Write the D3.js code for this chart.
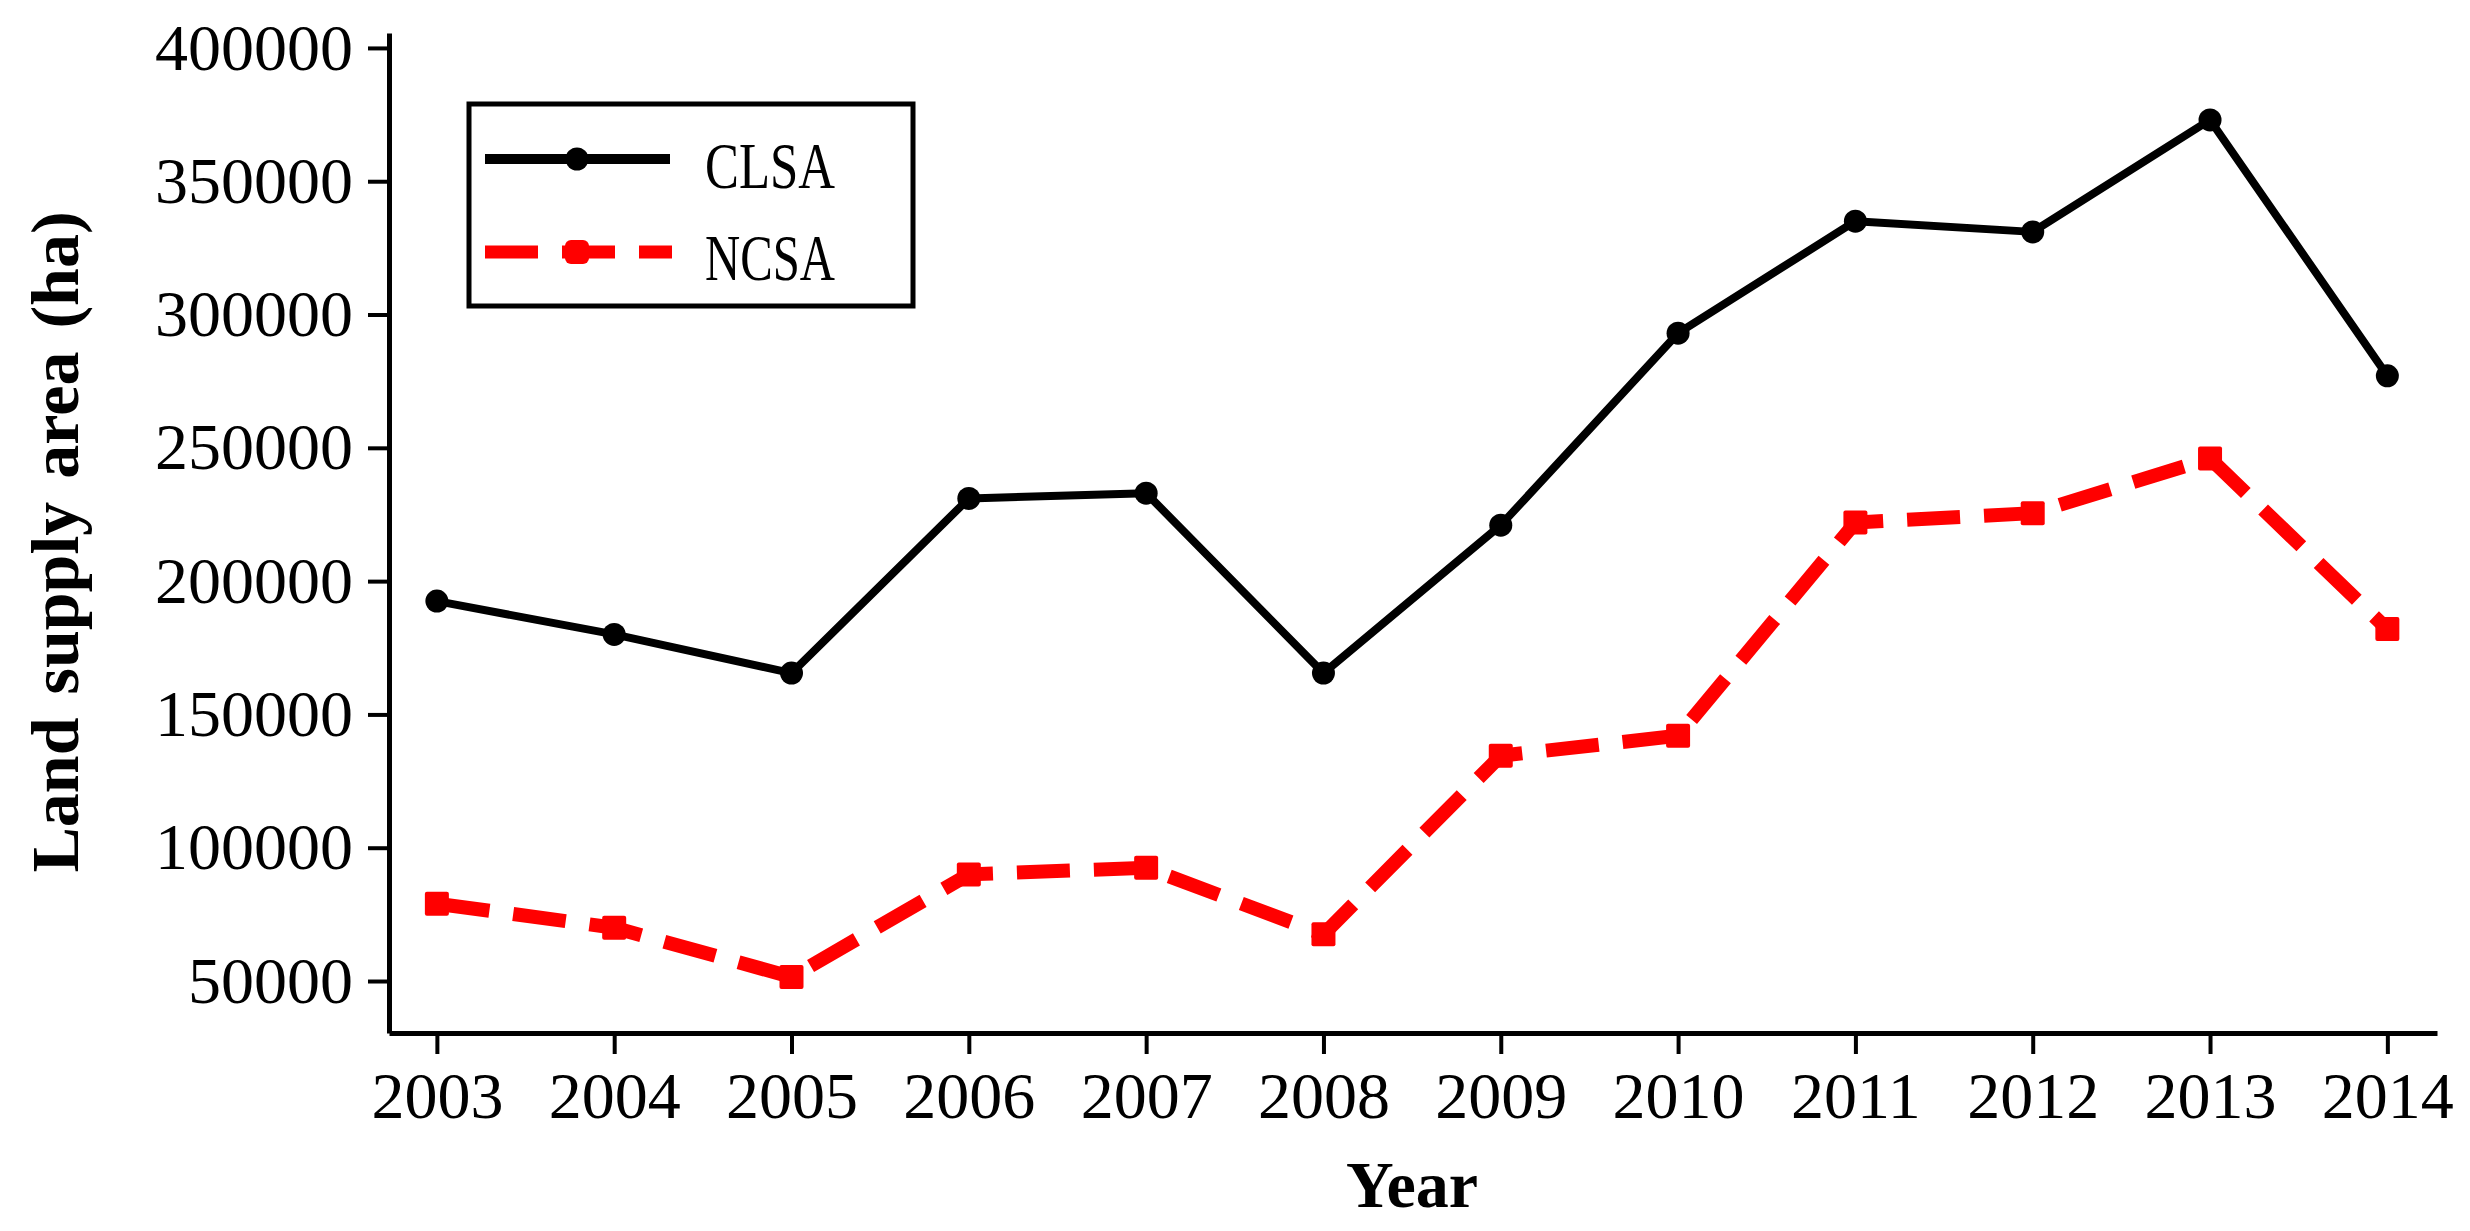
<!DOCTYPE html>
<html>
<head>
<meta charset="utf-8">
<script src="https://cdn.jsdelivr.net/npm/d3@7"></script>
<style>
	body { margin: 0; background: #fff; }
	text { font-family: "Liberation Serif", "DejaVu Serif", serif; }
</style>
</head>
<body>
<script>
// values
var years = [2003, 2004, 2005, 2006, 2007, 2008, 2009, 2010, 2011, 2012, 2013, 2014];
var clsa = [192500, 180000, 165500, 231000, 233000, 165500, 221000, 293000, 335000, 331000, 373000, 277000];
var ncsa = [79000, 70000, 51500, 90000, 92500, 67500, 134500, 142000, 222000, 225500, 246000, 182000];
var yTicks = [50000, 100000, 150000, 200000, 250000, 300000, 350000, 400000];
var seriesNames = ["CLSA", "NCSA"];

var WIDTH = 2470;
var HEIGHT = 1231;

var svg = d3.select("body")
	.append("svg")
	.attr("width", WIDTH)
	.attr("height", HEIGHT);

var x = d3.scaleLinear()
	.domain([2002.73, 2014.28])
	.range([389, 2437]);

var y = d3.scaleLinear()
	.domain([30500, 405600])
	.range([1033, 33]);

// axes
var xAxis = svg.append("g")
	.attr("transform", "translate(0,1033)")
	.call(d3.axisBottom(x).tickValues(years).tickFormat(d3.format("d")).tickSize(21).tickPadding(17).tickSizeOuter(0));

var yAxis = svg.append("g")
	.attr("transform", "translate(389,0)")
	.call(d3.axisLeft(y).tickValues(yTicks).tickFormat(d3.format("d")).tickSize(21).tickPadding(15).tickSizeOuter(0));

[xAxis, yAxis].forEach(function(a) {
	a.select(".domain").attr("stroke", "#000").attr("stroke-width", 5);
	a.selectAll(".tick line").attr("stroke", "#000").attr("stroke-width", 4);
	a.selectAll(".tick text")
		.attr("fill", "#000")
		.style("font-family", "'Liberation Serif', serif")
		.style("font-size", "66px");
});

// axis titles
svg.append("text")
	.attr("transform", "translate(78,542) rotate(-90)")
	.attr("text-anchor", "middle")
	.style("font-weight", "bold")
	.style("font-size", "68px")
	.style("word-spacing", "6px")
	.text("Land supply area (ha)");

svg.append("text")
	.attr("x", 1412)
	.attr("y", 1207)
	.attr("text-anchor", "middle")
	.style("font-weight", "bold")
	.style("font-size", "66px")
	.text("Year");

// lines
var line = function(values) {
	return d3.line()
		.x(function(d, i) { return x(years[i]); })
		.y(function(d) { return y(d); })(values);
};

svg.append("path")
	.attr("d", line(clsa))
	.attr("fill", "none")
	.attr("stroke", "#000")
	.attr("stroke-width", 8)
	.attr("stroke-linejoin", "round");

svg.selectAll("circle.clsa")
	.data(clsa)
	.enter()
	.append("circle")
	.attr("class", "clsa")
	.attr("cx", function(d, i) { return x(years[i]); })
	.attr("cy", function(d) { return y(d); })
	.attr("r", 11.5)
	.attr("fill", "#000");

svg.append("path")
	.attr("d", line(ncsa))
	.attr("fill", "none")
	.attr("stroke", "#ff0000")
	.attr("stroke-width", 14)
	.attr("stroke-dasharray", "53,24");

svg.selectAll("rect.ncsa")
	.data(ncsa)
	.enter()
	.append("rect")
	.attr("class", "ncsa")
	.attr("x", function(d, i) { return x(years[i]) - 12; })
	.attr("y", function(d) { return y(d) - 12; })
	.attr("width", 24)
	.attr("height", 24)
	.attr("rx", 2)
	.attr("fill", "#ff0000");

// legend
var legend = svg.append("g");

legend.append("rect")
	.attr("x", 469)
	.attr("y", 104)
	.attr("width", 444)
	.attr("height", 202)
	.attr("fill", "#fff")
	.attr("stroke", "#000")
	.attr("stroke-width", 5);

legend.append("line")
	.attr("x1", 485).attr("x2", 670)
	.attr("y1", 159).attr("y2", 159)
	.attr("stroke", "#000")
	.attr("stroke-width", 10);

legend.append("circle")
	.attr("cx", 577).attr("cy", 159)
	.attr("r", 11.5)
	.attr("fill", "#000");

legend.append("line")
	.attr("x1", 485).attr("x2", 672)
	.attr("y1", 252).attr("y2", 252)
	.attr("stroke", "#ff0000")
	.attr("stroke-width", 13)
	.attr("stroke-dasharray", "53,24");

legend.append("rect")
	.attr("x", 565).attr("y", 240)
	.attr("width", 24).attr("height", 24)
	.attr("rx", 6)
	.attr("fill", "#ff0000");

legend.selectAll("text.leg")
	.data(seriesNames)
	.enter()
	.append("text")
	.attr("class", "leg")
	.attr("x", 705)
	.attr("y", function(d, i) { return 188 + i * 92; })
	.attr("textLength", 130)
	.attr("lengthAdjust", "spacingAndGlyphs")
	.style("font-size", "66px")
	.text(function(d) { return d; });
</script>
</body>
</html>
